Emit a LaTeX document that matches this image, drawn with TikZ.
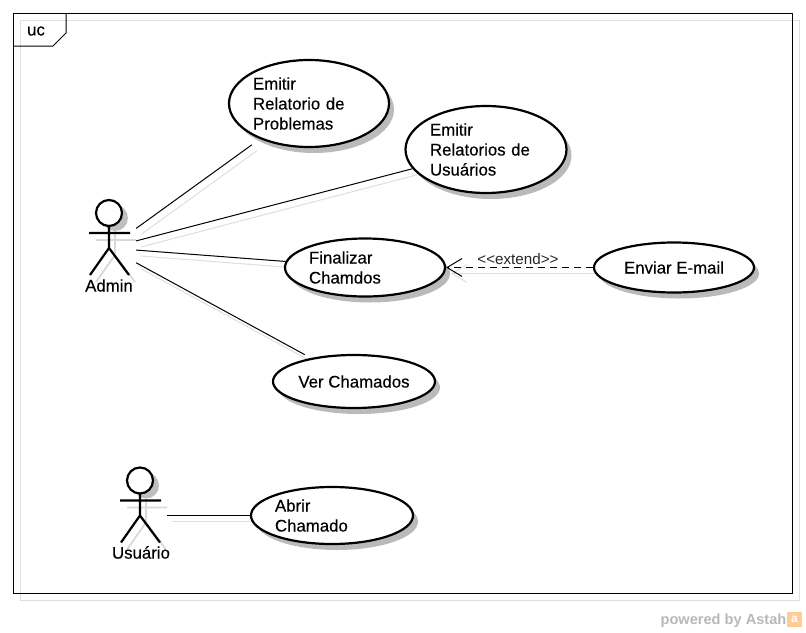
\documentclass[tikz,border=0pt]{standalone}
\usepackage{fontspec}
\setmainfont{Liberation Sans}
\newfontfamily\lblfont[FakeBold=0.25]{Liberation Sans}
\usepackage{tikz}
\usetikzlibrary{arrows.meta,shapes.geometric,shadows,backgrounds}

\begin{document}
\begin{tikzpicture}[
  x=1pt, y=-1pt,
  txt/.style={font=\lblfont\fontsize{16.8}{20}\selectfont},
  usecase/.style={ellipse, draw=black, line width=2.2pt, fill=white, inner sep=0pt, align=left, txt,
    drop shadow={shadow xshift=5pt, shadow yshift=-6pt, fill=black!27, opacity=1}},
  actorbox/.style={rectangle, inner sep=0pt, minimum width=54pt, minimum height=96pt},
  actorlab/.style={txt, inner sep=0pt},
  assoc/.style={black, line width=1pt},
  assocsh/.style={black!13, line width=1pt, transform canvas={shift={(5,6)}}},
  ext/.style={black, line width=1pt, dash pattern=on 7pt off 5pt, -{Straight Barb[length=15pt,width=18pt]}},
  extsh/.style={black!13, line width=1pt, -{Straight Barb[length=15pt,width=18pt]}, transform canvas={shift={(5,6)}}},
  stickman/.pic={
    \draw[line width=2.2pt, fill=white] (0,-35) circle [radius=13];
    \draw[line width=2.2pt] (0,-22) -- (0,0) (-20,-15) -- (21,-15) (-19,27) -- (0,0) -- (20,27);
  },
  stickshadow/.pic={
    \fill[black!25] (6,-30) circle [radius=13];
    \draw[black!15, line width=1.8pt] (6,-17) -- (6,7) (-13,-8) -- (27,-8) (-13,34) -- (6,7) -- (26,34);
  }
]
\useasboundingbox (0,0) rectangle (806,632);
% frame
\draw[black!13, line width=1pt] (20,20) rectangle (799,600);
\node[rectangle, draw=black, line width=1pt, minimum width=779pt, minimum height=580pt, inner sep=0pt] (frame) at (402.5,303) {};
\draw[black, line width=1pt] (66,13) -- (66,33) -- (53,46) -- (13,46);
\node[txt, inner sep=0pt] (uc) at (36,31) {uc};
% actors
\node[actorbox] (admin) at (109,248) {};
\node[actorbox] (usuario) at (140,515.5) {};
\pic at (admin.center) {stickshadow};
\pic at (usuario.center) {stickshadow};
\pic at (admin.center) {stickman};
\pic at (usuario.center) {stickman};
\node[actorlab] (adminlab) at (109,285.5) {Admin};
\node[actorlab] (usuariolab) at (141,552.5) {Usuário};
% use cases
\node[usecase, minimum width=160pt, minimum height=87pt, text width=112pt] (relprob) at (309,103.5) {Emitir\\Relatorio de\\Problemas};
\node[usecase, minimum width=161pt, minimum height=87pt, text width=112pt] (relusu) at (486,149.5) {Emitir\\Relatorios de\\Usuários};
\node[usecase, minimum width=160pt, minimum height=58pt, text width=112pt] (finalizar) at (365,267.5) {Finalizar\\Chamdos};
\node[usecase, minimum width=160pt, minimum height=50pt, align=center] (email) at (674,267.5) {Enviar E-mail};
\node[usecase, minimum width=162pt, minimum height=53pt, align=center] (verch) at (354,381.5) {Ver Chamados};
\node[usecase, minimum width=162pt, minimum height=57pt, text width=114pt] (abrir) at (332,515.5) {Abrir\\Chamado};
% connectors
\begin{scope}[on background layer]
\draw[assocsh, shorten >=10pt] (admin) -- (relprob);
\draw[assocsh] (admin) -- (relusu);
\draw[assocsh] (admin) -- (finalizar);
\draw[assocsh, shorten >=7pt] (admin) -- (verch);
\draw[assocsh] (usuario) -- (abrir);
\draw[extsh] (email) -- (finalizar);
\end{scope}
\draw[assoc, shorten >=10pt] (admin) -- (relprob);
\draw[assoc] (admin) -- (relusu);
\draw[assoc] (admin) -- (finalizar);
\draw[assoc, shorten >=7pt] (admin) -- (verch);
\draw[assoc] (usuario) -- (abrir);
\draw[ext] (email) -- (finalizar);
\node[font=\fontsize{15.2}{18}\selectfont, inner sep=0pt, text=black!85] (extlab) at (518,259) {<{}<extend>{}>};
% watermark
\node[font=\bfseries\fontsize{14.6}{18}\selectfont, text=black!28, inner sep=0pt] (powered) at (723.5,620.5) {powered by Astah};
\node[rectangle, fill=orange!40, minimum size=15pt, inner sep=0pt, text=white, font=\bfseries\fontsize{12}{12}\selectfont] (logo) at (794.5,619.5) {a};
\end{tikzpicture}
\end{document}
